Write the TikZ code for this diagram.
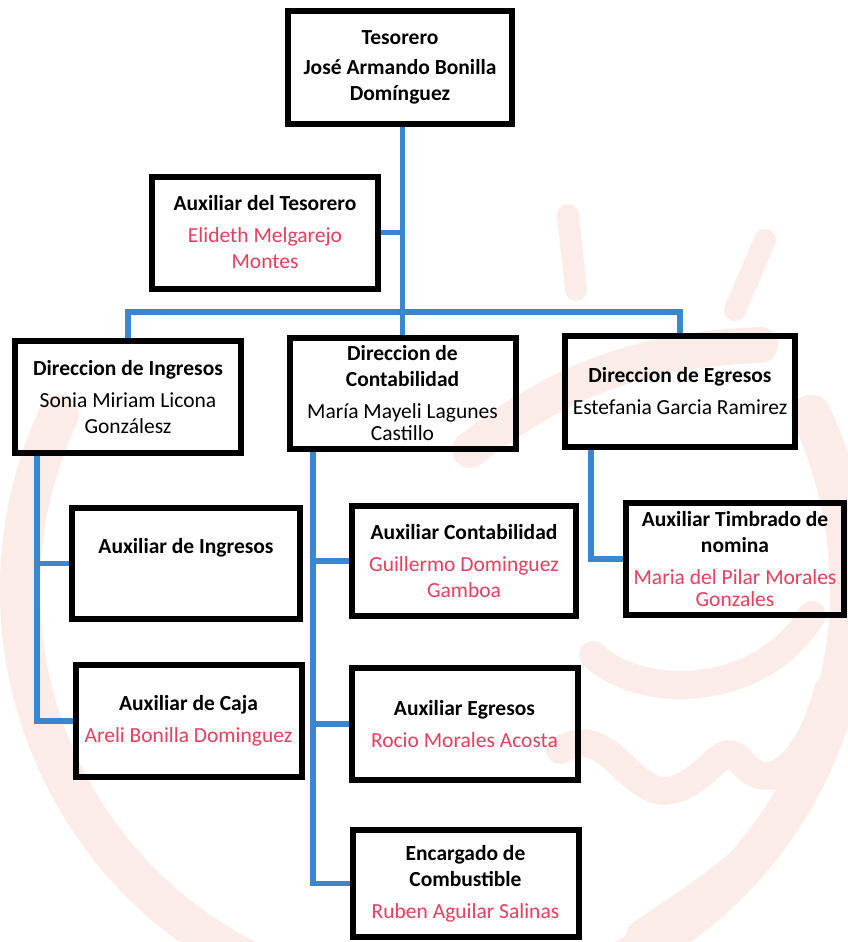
\documentclass[tikz,border=0pt]{standalone}
\usepackage{fontspec}
\setmainfont{Carlito}
\usetikzlibrary{positioning}
\definecolor{orgblue}{RGB}{58,135,208}
\definecolor{namered}{RGB}{234,62,94}
\definecolor{wmpink}{RGB}{252,236,231}
\newcommand{\ptitle}[1]{\textbf{#1}}
\newcommand{\pname}[1]{\textcolor{namered}{#1}}

\begin{document}
\begin{tikzpicture}[x=1pt,y=-1pt,
    box/.style={draw=black, line width=6pt, minimum width=226pt, minimum height=112pt,
      align=center, inner sep=1pt, font=\fontsize{21.5}{26}\selectfont},
    link/.style={draw=orgblue, line width=5.5pt},
    wm/.style={draw=wmpink, line width=28pt, line cap=round}]
  \useasboundingbox (0,0) rectangle (848,942);

  % watermark in the background
  \begin{scope}
    \clip (0,0) rectangle (848,942);
    \draw[wm, line width=40pt] (435,590) ++(155:415pt) arc[start angle=155, end angle=385, radius=415pt];
    \draw[wm] (593,655) .. controls (640,700) and (760,700) .. (812,615);
    \draw[wm] (560,750) .. controls (610,720) and (630,800) .. (672,790)
      .. controls (710,780) and (720,740) .. (740,760) .. controls (770,800) and (810,760) .. (828,690);
    \draw[wm] (640,935) .. controls (690,900) and (740,870) .. (762,838);
    \draw[wm, line width=22pt] (568,215) -- (576,290);
    \draw[wm, line width=22pt] (765,240) -- (735,310);
    \draw[wm, line width=36pt] (470,450) .. controls (560,380) and (640,350) .. (760,345);
  \end{scope}

  % top level
  \node[box, minimum width=224pt] (tes) at (400,67.5)
    {\ptitle{Tesorero}\\[4pt]\ptitle{José Armando Bonilla}\\\ptitle{Domínguez}};
  \node[box] (auxt) at (265,232.5)
    {\ptitle{Auxiliar del Tesorero}\\[6pt]\pname{Elideth Melgarejo}\\\pname{Montes}};

  % directions
  \node[box] (ing) at (128,397)
    {\ptitle{Direccion de Ingresos}\\[6pt]Sonia Miriam Licona\\Gonzálesz};
  \node[box, minimum height=111pt] (cont) at (402.5,393.5)
    {\ptitle{Direccion de}\\\ptitle{Contabilidad}\\[6pt]María Mayeli Lagunes\\[-4pt]Castillo};
  \node[box, minimum width=230pt, minimum height=111pt] (egr) at (680,391.5)
    {\ptitle{Direccion de Egresos}\\[6pt]Estefania Garcia Ramirez};

  % assistants
  \node[box, minimum width=228pt, minimum height=111pt] (auxi) at (186,563.5)
    {\ptitle{Auxiliar de Ingresos}\\[10pt]~};
  \node[box] (caja) at (188.5,721)
    {\ptitle{Auxiliar de Caja}\\[6pt]\pname{Areli Bonilla Dominguez}};
  \node[box, minimum width=224pt, minimum height=110pt] (auxc) at (464,561)
    {\ptitle{Auxiliar Contabilidad}\\[6pt]\pname{Guillermo Dominguez}\\\pname{Gamboa}};
  \node[box] (auxe) at (464.5,724)
    {\ptitle{Auxiliar Egresos}\\[6pt]\pname{Rocio Morales Acosta}};
  \node[box, minimum height=107pt] (comb) at (465.5,883.5)
    {\ptitle{Encargado de}\\\ptitle{Combustible}\\[6pt]\pname{Ruben Aguilar Salinas}};
  \node[box, minimum width=218pt] (timb) at (735,559)
    {\ptitle{Auxiliar Timbrado de}\\\ptitle{nomina}\\[6pt]\pname{Maria del Pilar Morales}\\[-4pt]\pname{Gonzales}};

  % connectors
  \coordinate (bus) at (402,312);
  \coordinate (ingT) at (37,0);
  \coordinate (contT) at (313,0);
  \coordinate (egrT) at (591,0);
  \draw[link] (tes.south -| cont.north) -- (cont.north);
  \draw[link] (auxt.east) -- (auxt.east -| cont.north);
  \draw[link] (ing.north) |- (bus) -| (egr.north);
  \draw[link] (ingT |- ing.south) |- (caja.west);
  \draw[link] (auxi.west) -- (auxi.west -| ingT);
  \draw[link] (contT |- cont.south) |- (comb.west);
  \draw[link] (auxc.west) -- (auxc.west -| contT);
  \draw[link] (auxe.west) -- (auxe.west -| contT);
  \draw[link] (egrT |- egr.south) |- (timb.west);
\end{tikzpicture}
\end{document}
